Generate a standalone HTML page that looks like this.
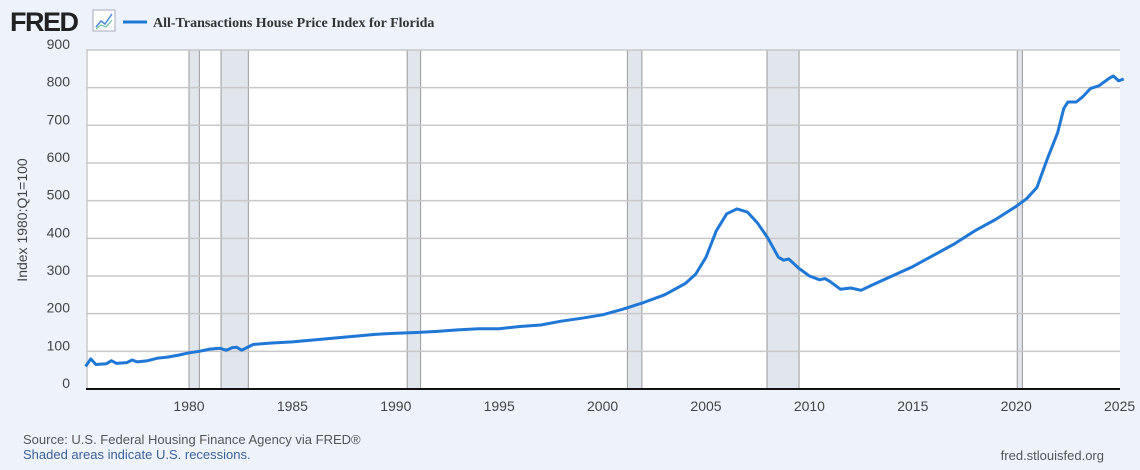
<!DOCTYPE html>
<html><head><meta charset="utf-8"><style>
body{margin:0;width:1140px;height:465px;background:#eef3fb;font-family:"Liberation Sans",Arial,sans-serif;overflow:hidden}
</style></head><body>
<svg id="s" width="1140" height="465" xmlns="http://www.w3.org/2000/svg" font-family="Liberation Sans, Arial, sans-serif">
<text x="10" y="31" font-size="27" font-weight="bold" fill="#222" letter-spacing="-1.5">FRED</text>
<rect x="93" y="10" width="22" height="21" fill="#fff" stroke="#aab" stroke-width="1"/>
<polyline points="96,27 101,21 105,24 112,14" fill="none" stroke="#4a8ad8" stroke-width="1.5"/>
<polyline points="96,29 101,25 106,27 112,20" fill="none" stroke="#6bc1a0" stroke-width="1.2"/>
<line x1="123" y1="22" x2="147" y2="22" stroke="#1f77d6" stroke-width="3"/>
<text x="153" y="27" font-family="Liberation Serif, serif" font-size="14" font-weight="bold" fill="#333">All-Transactions House Price Index for Florida</text>
<rect x="86" y="50" width="1034" height="339" fill="#fff"/>
<g id="rec" fill="#e1e5ec" stroke="#999" stroke-width="1"></g>
<g id="grid" stroke="#c8c8c8" stroke-width="1.5"></g>
<g id="yl" font-size="14" fill="#444" text-anchor="end"></g>
<g id="xl" font-size="14" fill="#444" text-anchor="middle"></g>
<line x1="86" y1="389" x2="1120" y2="389" stroke="#111" stroke-width="2"/>
<polyline id="ln" fill="none" stroke="#1f77d6" stroke-width="3" stroke-linejoin="round"/>
<text transform="translate(27,220) rotate(-90)" font-size="14" fill="#444" text-anchor="middle">Index 1980:Q1=100</text>
<text x="23" y="444" font-size="13" fill="#555">Source: U.S. Federal Housing Finance Agency via FRED®</text>
<text x="23" y="459" font-size="13" fill="#3d5f99">Shaded areas indicate U.S. recessions.</text>
<text x="1104" y="460" font-size="13" fill="#555" text-anchor="end">fred.stlouisfed.org</text>
</svg>
<script>
const X=y=>85.6+(y-1975)*20.68, Y=v=>389-v*0.3767, NS="http://www.w3.org/2000/svg";
function el(p,t,a,txt){const e=document.createElementNS(NS,t);for(const k in a)e.setAttribute(k,a[k]);if(txt)e.textContent=txt;document.getElementById(p).appendChild(e);}
[[1980,1980.5],[1981.55,1982.87],[1990.55,1991.2],[2001.2,2001.9],[2007.95,2009.5],[2020.05,2020.3]].forEach(r=>el("rec","rect",{x:X(r[0]),y:50,width:X(r[1])-X(r[0]),height:339}));
for(let v=100;v<=900;v+=100)el("grid","line",{x1:86,x2:1120,y1:Y(v),y2:Y(v)});
el("grid","line",{x1:87,x2:87,y1:50,y2:389});
for(let v=0;v<=900;v+=100)el("yl","text",{x:70,y:Y(v)-1},String(v));
for(let y=1980;y<=2025;y+=5)el("xl","text",{x:X(y),y:411},String(y));
const d=[[1975,60],[1975.25,80],[1975.5,65],[1976,67],[1976.25,75],[1976.5,68],[1977,70],[1977.25,77],[1977.5,72],[1978,75],[1978.5,82],[1979,85],[1979.5,90],[1980,96],[1980.5,100],[1981,106],[1981.5,108],[1981.8,103],[1982.1,110],[1982.3,111],[1982.55,103],[1982.8,110],[1983.1,118],[1984,122],[1985,125],[1986,130],[1987,135],[1988,140],[1989,145],[1990,148],[1991,150],[1992,153],[1993,157],[1994,160],[1995,160],[1996,166],[1997,170],[1998,180],[1999,188],[2000,197],[2001,212],[2002,230],[2003,250],[2004,280],[2004.5,305],[2005,350],[2005.5,420],[2006,465],[2006.5,478],[2007,470],[2007.5,440],[2008,400],[2008.5,350],[2008.75,342],[2009,345],[2009.5,320],[2010,300],[2010.5,290],[2010.75,293],[2011,285],[2011.5,265],[2012,268],[2012.5,262],[2013,275],[2014,300],[2015,325],[2016,355],[2017,385],[2018,420],[2019,450],[2020,485],[2020.5,505],[2021,535],[2021.5,610],[2022,680],[2022.3,745],[2022.5,762],[2022.9,762],[2023.2,775],[2023.6,798],[2024,805],[2024.25,815],[2024.5,825],[2024.7,831],[2024.95,818],[2025.2,823]];
document.getElementById("ln").setAttribute("points",d.map(p=>X(p[0]).toFixed(1)+","+Y(p[1]).toFixed(1)).join(" "));
</script>
</body></html>
